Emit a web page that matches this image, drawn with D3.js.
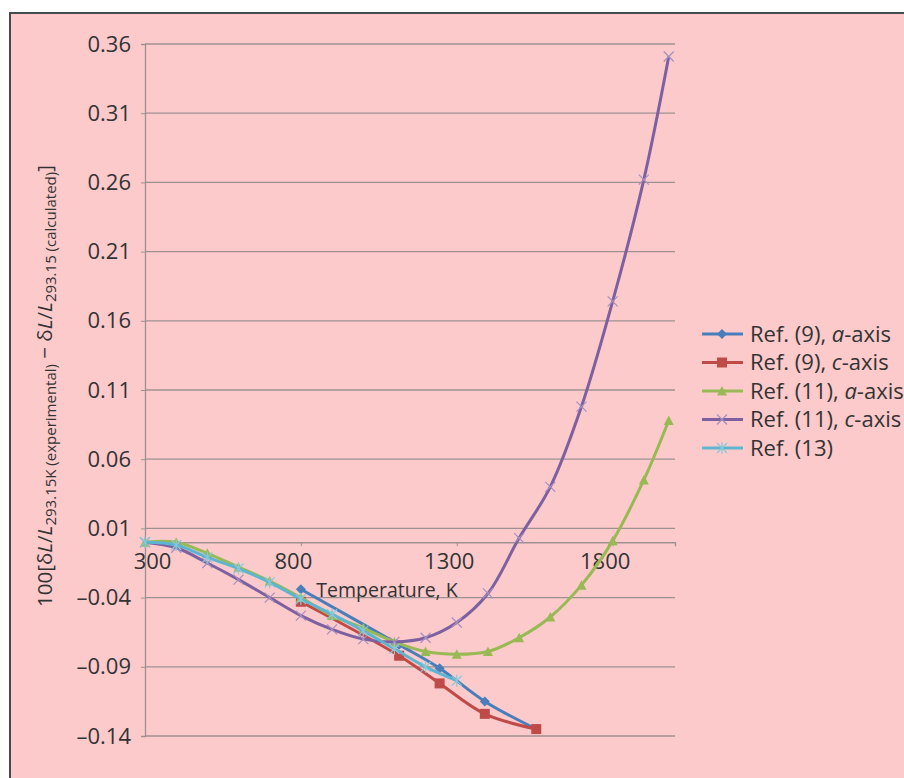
<!DOCTYPE html>
<html>
<head>
<meta charset="utf-8">
<script src="https://cdn.jsdelivr.net/npm/d3@7"></script>
<style>
  body { margin: 0; background: #fff; }
  svg text { font-family: "Open Sans", "Noto Sans", sans-serif; fill: #333; }
</style>
</head>
<body>
<div id="chart"></div>
<script>
// temperatures (K) and deviations
const tempsRef11 = [300, 400, 500, 600, 700, 800, 900, 1000, 1100, 1200, 1300, 1400, 1500, 1600, 1700, 1800, 1900, 1980];
const ref11a = [0.000, 0.000, -0.008, -0.018, -0.028, -0.040, -0.053, -0.062, -0.072, -0.079, -0.081, -0.079, -0.069, -0.054, -0.031, 0.001, 0.045, 0.088];
const ref11c = [0.000, -0.004, -0.015, -0.027, -0.040, -0.053, -0.063, -0.070, -0.072, -0.069, -0.058, -0.037, 0.003, 0.040, 0.098, 0.174, 0.262, 0.351];

const tempsRef9 = [800, 1115, 1245, 1390, 1555];
const ref9a = [-0.034, -0.074, -0.091, -0.115, -0.135];
const ref9c = [-0.043, -0.082, -0.102, -0.124, -0.135];

const tempsRef13 = [300, 400, 500, 600, 700, 800, 900, 1000, 1100, 1200, 1300];
const ref13 = [0.000, -0.002, -0.011, -0.019, -0.029, -0.041, -0.052, -0.064, -0.077, -0.090, -0.100];

const xTicks = [300, 800, 1300, 1800];
const yTicks = [0.36, 0.31, 0.26, 0.21, 0.16, 0.11, 0.06, 0.01, -0.04, -0.09, -0.14];

const series = [
  {name: "Ref. (9), ", ax: "a", t: tempsRef9, v: ref9a, color: "#4a7ebb", marker: "diamond"},
  {name: "Ref. (9), ", ax: "c", t: tempsRef9, v: ref9c, color: "#be4b48", marker: "square"},
  {name: "Ref. (11), ", ax: "a", t: tempsRef11, v: ref11a, color: "#98b954", marker: "triangle"},
  {name: "Ref. (11), ", ax: "c", t: tempsRef11, v: ref11c, color: "#7d60a0", marker: "x"},
  {name: "Ref. (13)", ax: null, t: tempsRef13, v: ref13, color: "#5db5cf", marker: "plus"}
];

const width = 904, height = 778;
const plot = {left: 145, right: 675, top: 44, bottom: 736};

const svg = d3.select("#chart").append("svg")
  .attr("width", width)
  .attr("height", height);

// chart frame
svg.append("rect")
  .attr("x", 10).attr("y", 13)
  .attr("width", width + 20).attr("height", height + 20)
  .attr("fill", "#fccacb")
  .attr("stroke", "#4a4a4a")
  .attr("stroke-width", 2);

const x = d3.scaleLinear().domain([300, 2000]).range([plot.left, plot.right]);
const y = d3.scaleLinear().domain([-0.14, 0.36]).range([plot.bottom, plot.top]);

// gridlines
svg.append("g")
  .selectAll("line")
  .data(yTicks)
  .enter()
  .append("line")
  .attr("x1", plot.left).attr("x2", plot.right)
  .attr("y1", d => y(d)).attr("y2", d => y(d))
  .attr("stroke", "#9e9090")
  .attr("stroke-width", 1.3);

// y axis
const yAxis = d3.axisLeft(y).tickValues(yTicks).tickSize(4).tickPadding(10)
  .tickFormat(d => d < 0 ? "\u2013" + d3.format(".2f")(-d) : d3.format(".2f")(d));
const yG = svg.append("g")
  .attr("transform", "translate(" + plot.left + ",0)")
  .call(yAxis);
yG.select(".domain").attr("stroke", "#9e9090").attr("stroke-width", 1.3);
yG.selectAll(".tick line").attr("stroke", "#9e9090");
yG.selectAll(".tick text").attr("font-size", 22).attr("fill", "#333");

// x axis, crossing at zero
const xAxis = d3.axisBottom(x).tickValues(xTicks).tickSize(4).tickPadding(7).tickFormat(d3.format("d"));
const xG = svg.append("g")
  .attr("transform", "translate(0," + y(0) + ")")
  .call(xAxis);
xG.select(".domain").attr("stroke", "#9e9090").attr("stroke-width", 1.3);
xG.selectAll(".tick line").attr("stroke", "#9e9090");
xG.selectAll(".tick text")
  .attr("font-size", 22).attr("fill", "#333")
  .attr("dx", (d, i) => i === 0 ? 7 : -8);

// axis titles
svg.append("text")
  .attr("x", 387).attr("y", 597)
  .attr("text-anchor", "middle")
  .attr("font-size", 19.5)
  .text("Temperature, K");

const yTitle = svg.append("text")
  .attr("transform", "translate(52,386) rotate(-90)")
  .attr("text-anchor", "middle")
  .attr("font-size", 20.5);
yTitle.append("tspan").text("100[\u03b4");
yTitle.append("tspan").attr("font-style", "italic").text("L");
yTitle.append("tspan").text("/");
yTitle.append("tspan").attr("font-style", "italic").text("L");
yTitle.append("tspan").attr("font-size", 15).attr("dy", 4).text("293.15K (experimental)");
yTitle.append("tspan").attr("dy", -4).text(" \u2212 \u03b4");
yTitle.append("tspan").attr("font-style", "italic").text("L");
yTitle.append("tspan").text("/");
yTitle.append("tspan").attr("font-style", "italic").text("L");
yTitle.append("tspan").attr("font-size", 15).attr("dy", 4).text("293.15 (calculated)");
yTitle.append("tspan").attr("dy", -4).text("]");

// marker shapes
function drawMarker(g, kind, color) {
  if (kind === "diamond") {
    g.append("path").attr("d", "M0,-5L5,0L0,5L-5,0Z").attr("fill", color);
  } else if (kind === "square") {
    g.append("rect").attr("x", -5).attr("y", -5).attr("width", 10).attr("height", 10).attr("fill", color);
  } else if (kind === "triangle") {
    g.append("path").attr("d", "M0,-5L5,4.5L-5,4.5Z").attr("fill", color);
  } else if (kind === "x") {
    g.append("path").attr("d", "M-5,-5L5,5M-5,5L5,-5").attr("stroke", "#a48fc0").attr("stroke-width", 1.2);
  } else if (kind === "plus") {
    g.append("path").attr("d", "M-5,-5L5,5M-5,5L5,-5M0,-6L0,6").attr("stroke", "#86c8dc").attr("stroke-width", 1.2);
  }
}

const line = d3.line()
  .x(d => x(d[0]))
  .y(d => y(d[1]))
  .curve(d3.curveCatmullRom.alpha(0.5));

const lines = svg.append("g");
series.forEach(s => {
  const pts = s.t.map((t, i) => [t, s.v[i]]);
  lines.append("path")
    .datum(pts)
    .attr("d", line)
    .attr("fill", "none")
    .attr("stroke", s.color)
    .attr("stroke-width", 3)
    .attr("stroke-linejoin", "round");
  lines.append("g")
    .selectAll("g")
    .data(pts)
    .enter()
    .append("g")
    .attr("transform", d => "translate(" + x(d[0]) + "," + y(d[1]) + ")")
    .each(function() { drawMarker(d3.select(this), s.marker, s.color); });
});

// legend
const legend = svg.append("g").attr("transform", "translate(702,334)");
series.forEach((s, i) => {
  const row = legend.append("g").attr("transform", "translate(0," + (i * 28.5) + ")");
  row.append("line")
    .attr("x1", 0).attr("x2", 41)
    .attr("stroke", s.color).attr("stroke-width", 3);
  drawMarker(row.append("g").attr("transform", "translate(20,0)"), s.marker, s.color);
  const t = row.append("text")
    .attr("x", 48).attr("dy", "0.35em")
    .attr("font-size", 22);
  t.append("tspan").text(s.name);
  if (s.ax) {
    t.append("tspan").attr("font-style", "italic").text(s.ax);
    t.append("tspan").text("-axis");
  }
});
</script>
</body>
</html>
